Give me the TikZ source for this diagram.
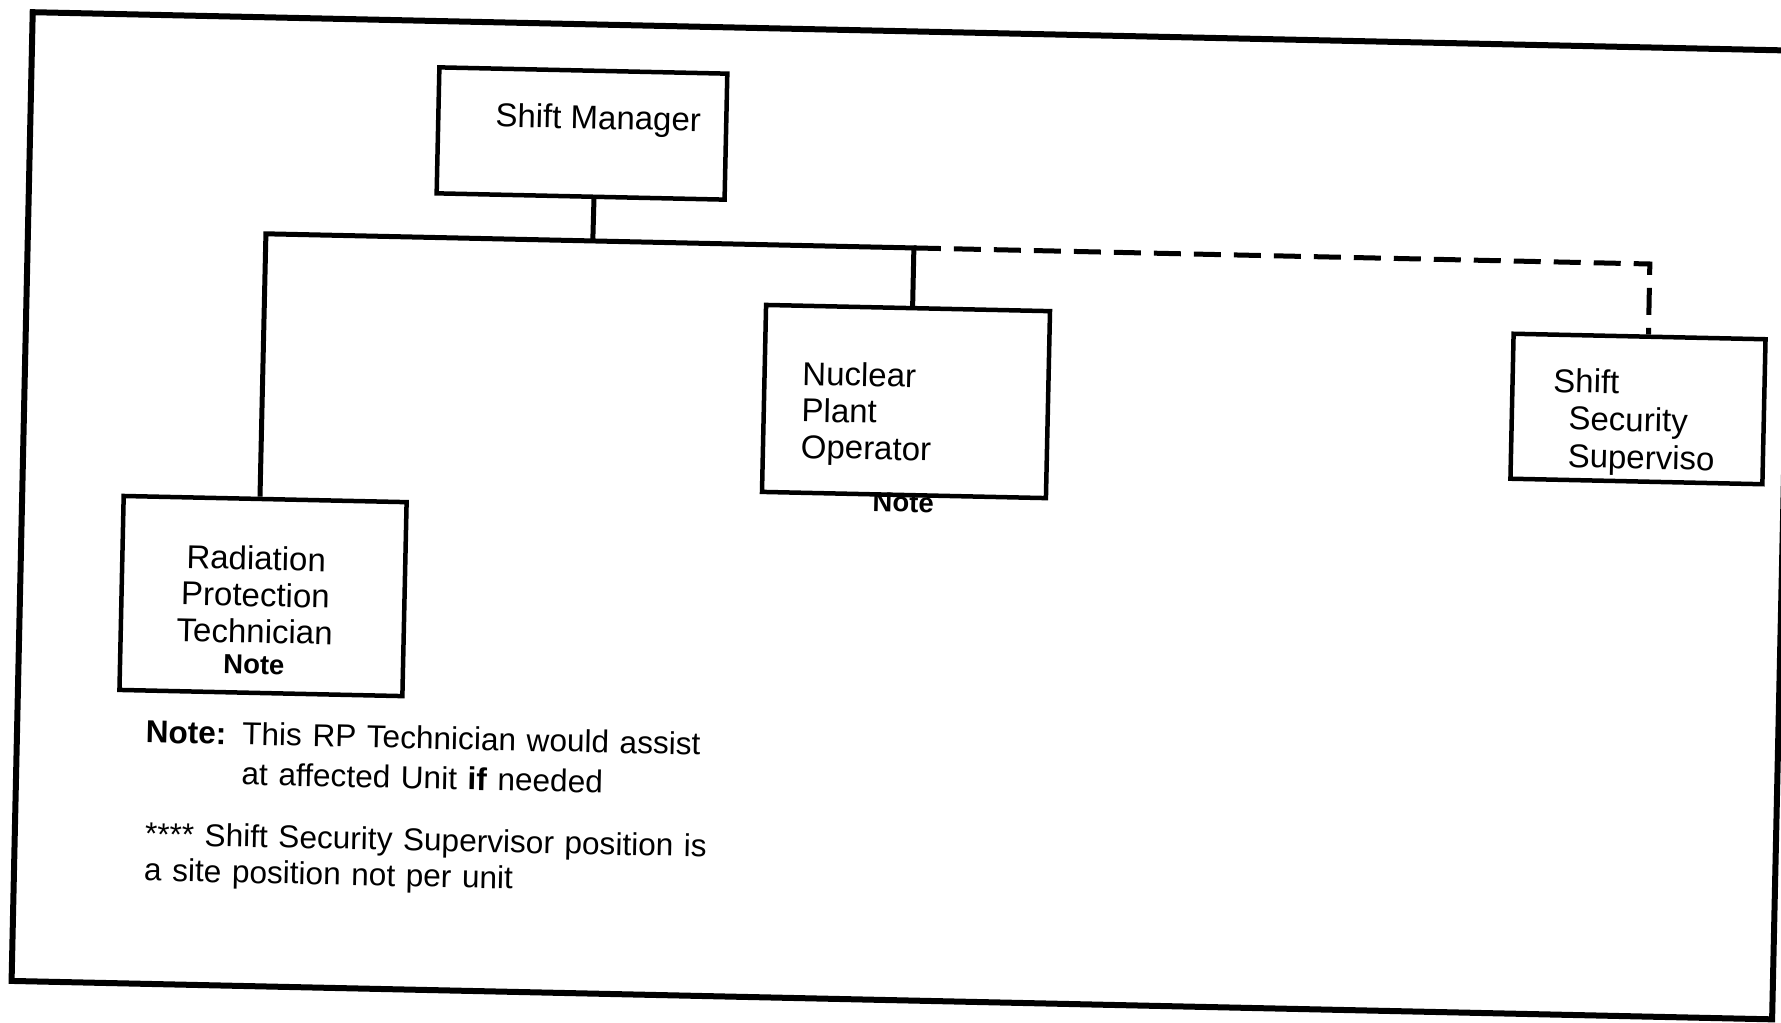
\documentclass[tikz,border=0pt]{standalone}
\usepackage{fontspec}
\setmainfont{Liberation Sans}
\usetikzlibrary{calc}
\begin{document}
\begin{tikzpicture}[x=1pt,y=-1pt]
\tikzset{
  orgbox/.style={draw=black, line width=4.5pt, inner sep=0pt},
  boxtxt/.style={inner sep=0pt, font=\fontsize{33}{36.5}\selectfont},
  notetxt/.style={inner sep=0pt, font=\fontsize{31.6}{40}\selectfont},
  smalltxt/.style={inner sep=0pt, font=\fontsize{27.5}{31}\selectfont\bfseries},
  solidlink/.style={draw=black, line width=5pt},
  dashlink/.style={draw=black, line width=5pt, dash pattern=on 27pt off 13pt},
  framestyle/.style={draw=black, line width=6pt}
}
\fill[white] (0,0) rectangle (1781,1023);
\useasboundingbox (0,0) rectangle (1781,1023);
\begin{scope}[rotate around={-1.25:(890.5,511.5)}, transform shape]
  \draw[framestyle] (22,31) rectangle (1783,1000);
  % boxes
  \node[orgbox, minimum width=288pt, minimum height=126pt] (sm) at (573.8,140.3) {};
  \node[orgbox, minimum width=283pt, minimum height=194pt] (rpt) at (265,609.7) {};
  \node[orgbox, minimum width=284pt, minimum height=187pt] (npo) at (903.6,401.2) {};
  \node[orgbox, minimum width=252pt, minimum height=145pt] (sss) at (1635.6,392.7) {};
  % box texts
  \node[boxtxt, anchor=base] (smt) at (589.7,135.5) {Shift Manager};
  \node[boxtxt, anchor=base, text width=260pt, align=center] (rptt) at (257.4,583.8)
    {Radiation\\Protection\\Technician\\[-5.5pt]{\fontsize{27.5}{31}\selectfont\bfseries Note}};
  \node[boxtxt, anchor=base west, text width=230pt, align=left] (npot) at (799.3,387.0)
    {Nuclear\\Plant\\Operator};
  \node[smalltxt, anchor=base] (npon) at (903,511.7) {Note};
  \node[boxtxt, anchor=base west, text width=220pt, align=left, font=\fontsize{33}{37.5}\selectfont] (ssst) at (1550.2,377.6)
    {Shift\\\hspace*{16pt}Security\\\hspace*{16pt}Superviso};
  % notes
  \node[notetxt, anchor=base, text width=600pt, align=center] (note1) at (428.2,759)
    {\textbf{Note:} This RP Technician would assist\\at affected Unit \textbf{if} needed};
  \node[notetxt, anchor=base west, text width=620pt, align=left, font=\fontsize{31.6}{36}\selectfont] (note2) at (152,861)
    {**** Shift Security Supervisor position is\\a site position not per unit};
  % bus coordinates
  \coordinate (busL) at (260,247.5);
  \coordinate (busM) at (587,247.5);
  \coordinate (busR) at (908.2,247.5);
  \coordinate (busD) at (1644.4,247.5);
  % connectors
  \draw[solidlink] ($(sm.south west)!0.546!(sm.south east)$) -- (busM);
  \draw[solidlink] ($(rpt.north west)!0.482!(rpt.north east)$) -- (busL) -- (busR)
    -- ($(npo.north west)!0.516!(npo.north east)$);
  \draw[dashlink] (busR) -- (busD) -- ($(sss.north west)!0.535!(sss.north east)$);
\end{scope}
\end{tikzpicture}
\end{document}
